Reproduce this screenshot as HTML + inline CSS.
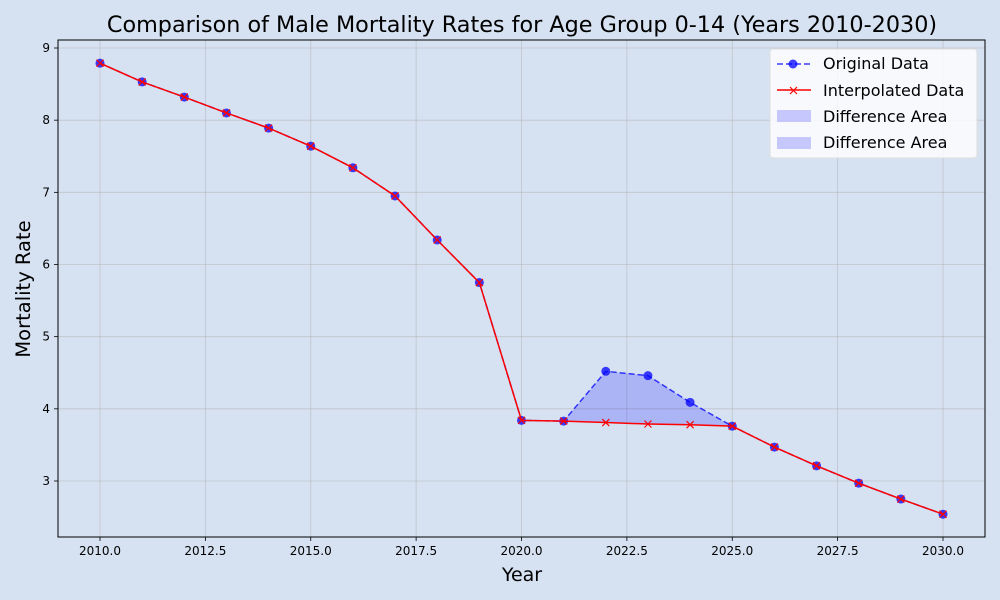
<!DOCTYPE html>
<html><head><meta charset="utf-8"><style>
body{margin:0;background:#d6e2f2;}
svg{display:block;font-family:"DejaVu Sans","Liberation Sans",sans-serif;}
</style></head><body>
<svg id="c" width="1000" height="600">
<rect width="1000" height="600" fill="#d6e2f2"/>
</svg>
<script>
const years=[2010,2011,2012,2013,2014,2015,2016,2017,2018,2019,2020,2021,2022,2023,2024,2025,2026,2027,2028,2029,2030];
const original=[8.79,8.53,8.32,8.10,7.89,7.64,7.34,6.95,6.34,5.75,3.84,3.83,4.52,4.46,4.09,3.76,3.47,3.21,2.97,2.75,2.54];
const interpolated=[8.79,8.53,8.32,8.10,7.89,7.64,7.34,6.95,6.34,5.75,3.84,3.83,3.81,3.79,3.78,3.76,3.47,3.21,2.97,2.75,2.54];
const xTicks=[2010,2012.5,2015,2017.5,2020,2022.5,2025,2027.5,2030];
const yTicks=[3,4,5,6,7,8,9];
const NS="http://www.w3.org/2000/svg";
const svg=document.getElementById('c');
const L=58,R=985,T=40,B=537;
const X=v=>100+(v-2010)*(943-100)/20;
const Y=v=>481-(v-3)*(481-48)/6;
function mk(t,a,p){const e=document.createElementNS(NS,t);for(const k in a)e.setAttribute(k,a[k]);(p||svg).appendChild(e);return e;}
const grid=mk('g',{});


xTicks.forEach(t=>{
 mk('line',{x1:X(t),x2:X(t),y1:T,y2:B,stroke:'#b0b0b0','stroke-opacity':0.6,'stroke-width':0.8},grid);
 mk('line',{x1:X(t),x2:X(t),y1:B,y2:B+4,stroke:'#000','stroke-width':0.8});
 const tx=mk('text',{x:X(t),y:B+18,'font-size':12,'text-anchor':'middle'});
 tx.textContent=t.toFixed(1);
 
 
});
yTicks.forEach(t=>{
 mk('line',{x1:L,x2:R,y1:Y(t),y2:Y(t),stroke:'#b0b0b0','stroke-opacity':0.6,'stroke-width':0.8},grid);
 mk('line',{x1:L-4,x2:L,y1:Y(t),y2:Y(t),stroke:'#000','stroke-width':0.8});
 const tx=mk('text',{x:L-8,y:Y(t)+4,'font-size':12,'text-anchor':'end'});
 tx.textContent=t;
 
 
});
let pts=[];
for(let i=0;i<years.length;i++)if(years[i]>=2020&&years[i]<=2025)pts.push([X(years[i]),Y(original[i])]);
for(let i=years.length-1;i>=0;i--)if(years[i]>=2020&&years[i]<=2025)pts.push([X(years[i]),Y(interpolated[i])]);
const area=mk('polygon',{points:pts.map(p=>p.join(',')).join(' '),fill:'#0000ff','fill-opacity':0.2});


const ol=mk('polyline',{points:years.map((y,i)=>X(y)+','+Y(original[i])).join(' '),fill:'none',stroke:'#0000ff','stroke-opacity':0.75,'stroke-width':1.5,'stroke-dasharray':'6,3'});


years.forEach((y,i)=>{const c=mk('circle',{cx:X(y),cy:Y(original[i]),r:4.5,fill:'#0000ff','fill-opacity':0.75});

});
const il=mk('polyline',{points:years.map((y,i)=>X(y)+','+Y(interpolated[i])).join(' '),fill:'none',stroke:'#ff0000','stroke-width':1.5});


years.forEach((y,i)=>{const x=X(y),yy=Y(interpolated[i]);const g=mk('path',{d:`M${x-3.5},${yy-3.5}L${x+3.5},${yy+3.5}M${x-3.5},${yy+3.5}L${x+3.5},${yy-3.5}`,stroke:'#ff0000','stroke-width':1.2});

});
mk('rect',{x:L,y:T,width:R-L,height:B-T,fill:'none',stroke:'#000','stroke-width':1});
</script>
<svg width="1000" height="600" style="position:absolute;left:0;top:0" font-family="DejaVu Sans, Liberation Sans, sans-serif">
<text x="522" y="32" font-size="22.3" text-anchor="middle">Comparison of Male Mortality Rates for Age Group 0-14 (Years 2010-2030)</text>
<text x="522" y="581" font-size="19" text-anchor="middle">Year</text>
<text x="30" y="289" font-size="19.5" text-anchor="middle" transform="rotate(-90 30 289)">Mortality Rate</text>
<g>
<rect x="770" y="49" width="207" height="109" rx="3" fill="#fff" fill-opacity="0.8" stroke="#ddd"/>
<line x1="777" y1="64" x2="811" y2="64" stroke="#0000ff" stroke-opacity="0.75" stroke-width="1.5" stroke-dasharray="6,3"/>
<circle cx="793" cy="64" r="4.5" fill="#0000ff" fill-opacity="0.75"/>
<text x="823" y="69" font-size="16">Original Data</text>
<line x1="777" y1="90" x2="811" y2="90" stroke="#ff0000" stroke-width="1.5"/>
<path d="M790,87L797,94M790,94L797,87" stroke="#ff0000" stroke-width="1.2"/>
<text x="823" y="96" font-size="16">Interpolated Data</text>
<rect x="777" y="110" width="34" height="12" fill="#0000ff" fill-opacity="0.2"/>
<text x="823" y="122" font-size="16">Difference Area</text>
<rect x="777" y="137" width="34" height="12" fill="#0000ff" fill-opacity="0.2"/>
<text x="823" y="148" font-size="16">Difference Area</text>
</g>
</svg>
</body></html>
